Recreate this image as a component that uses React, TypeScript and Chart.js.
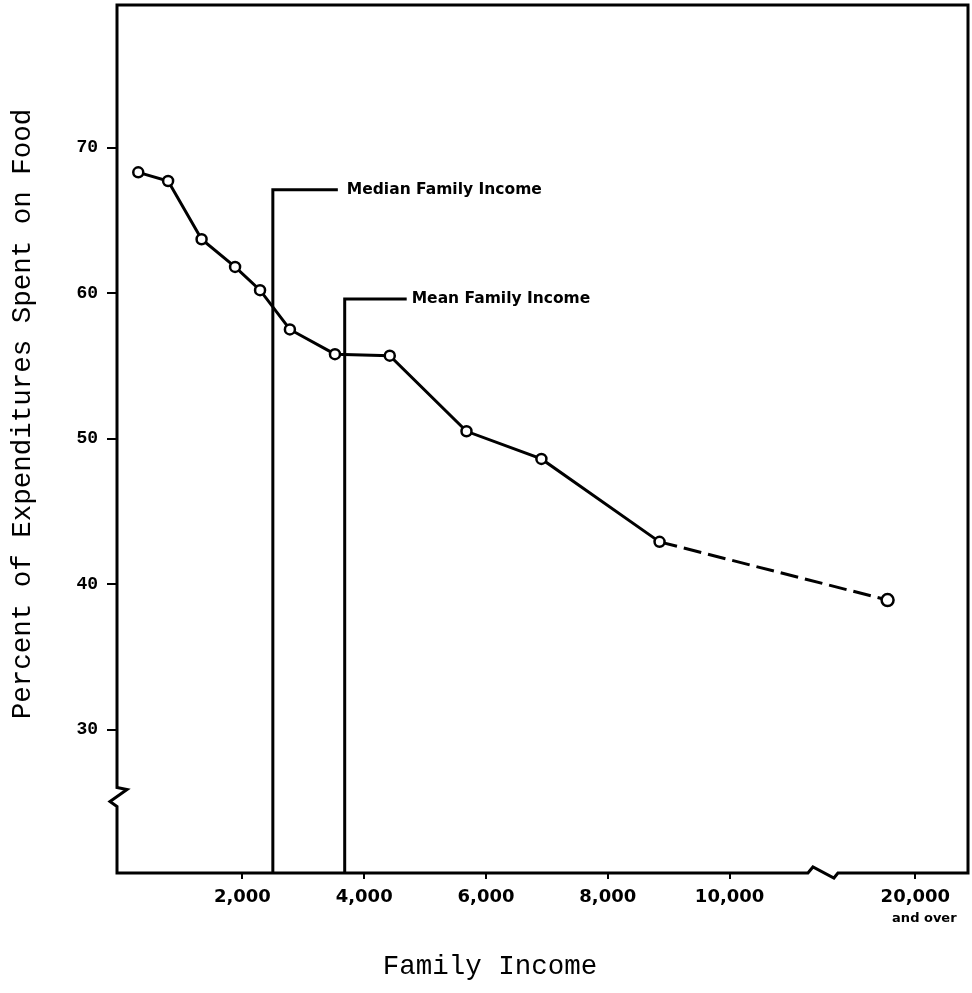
import React, { useEffect, useRef } from "react";
import { Chart, registerables } from "chart.js";

Chart.register(...registerables);

// ---- data ----
const incomes = [290, 780, 1330, 1880, 2290, 2780, 3520, 4420, 5680, 6910, 8850, 17500];
const foodShare = [68.3, 67.7, 63.7, 61.8, 60.2, 57.5, 55.8, 55.7, 50.5, 48.6, 42.9, 38.9];
const xTickValues = [2000, 4000, 6000, 8000, 10000, 20000];
const yTickValues = [30, 40, 50, 60, 70];
const medianIncome = 2500;
const medianLabelLevel = 67.1;
const meanIncome = 3680;
const meanLabelLevel = 59.6;
const medianLabel = "Median Family Income";
const meanLabel = "Mean Family Income";
const lastTickNote = "and over";
const yTitle = "Percent of Expenditures Spent on Food";
const xTitle = "Family Income";

// broken x axis: values above the break are compressed
const X_BREAK = 11500;
const COMPRESS = 0.1824;
const Y_BREAK = 25.4;
const toAxis = (v: number) => (v <= X_BREAK ? v : X_BREAK + (v - X_BREAK) * COMPRESS);

const decor = {
  id: "decor",
  beforeDatasetsDraw(chart: any) {
    const { ctx, chartArea: a, scales } = chart;
    const x = scales.x;
    const y = scales.y;
    ctx.save();
    ctx.strokeStyle = "#000";
    ctx.lineWidth = 3;
    ctx.lineJoin = "miter";
    const yb = y.getPixelForValue(Y_BREAK);
    const xb = x.getPixelForValue(X_BREAK);
    ctx.beginPath();
    ctx.moveTo(a.left, a.top);
    ctx.lineTo(a.right, a.top);
    ctx.lineTo(a.right, a.bottom);
    ctx.lineTo(xb + 17, a.bottom);
    ctx.lineTo(xb + 13, a.bottom + 5);
    ctx.lineTo(xb - 8, a.bottom - 6);
    ctx.lineTo(xb - 13, a.bottom);
    ctx.lineTo(a.left, a.bottom);
    ctx.lineTo(a.left, yb + 10);
    ctx.lineTo(a.left - 7, yb + 5);
    ctx.lineTo(a.left + 10, yb - 7);
    ctx.lineTo(a.left, yb - 9);
    ctx.lineTo(a.left, a.top);
    ctx.closePath();
    ctx.stroke();

    // median / mean markers
    const marks = [
      { v: medianIncome, lvl: medianLabelLevel, len: 65, gap: 9, text: medianLabel },
      { v: meanIncome, lvl: meanLabelLevel, len: 62, gap: 5, text: meanLabel },
    ];
    ctx.font = "bold 15.5px 'DejaVu Sans'";
    ctx.fillStyle = "#000";
    ctx.textAlign = "left";
    ctx.textBaseline = "middle";
    for (const m of marks) {
      const px = x.getPixelForValue(m.v);
      const py = y.getPixelForValue(m.lvl);
      ctx.beginPath();
      ctx.moveTo(px, a.bottom);
      ctx.lineTo(px, py);
      ctx.lineTo(px + m.len, py);
      ctx.stroke();
      ctx.fillText(m.text, px + m.len + m.gap, py);
    }
    ctx.restore();
  },
  afterDraw(chart: any) {
    const { ctx, scales } = chart;
    const x = scales.x;
    ctx.save();
    ctx.fillStyle = "#000";
    ctx.textAlign = "center";
    ctx.textBaseline = "middle";
    ctx.font = "bold 13px 'DejaVu Sans'";
    ctx.fillText(lastTickNote, x.getPixelForValue(toAxis(20000)) + 9, 919);

    ctx.font = "27.5px 'Liberation Mono'";
    ctx.fillText(xTitle, 490, 967);
    ctx.translate(23, 414);
    ctx.rotate(-Math.PI / 2);
    ctx.fillText(yTitle, 0, 0);
    ctx.restore();
  },
};

export default function App() {
  const ref = useRef<HTMLCanvasElement | null>(null);

  useEffect(() => {
    if (!ref.current) return;
    const last = incomes.length - 1;
    const chart = new Chart(ref.current, {
      type: "line",
      data: {
        datasets: [
          {
            data: incomes.map((v, i) => ({ x: toAxis(v), y: foodShare[i] })),
            borderColor: "#000",
            borderWidth: 3,
            backgroundColor: "#fff",
            pointBackgroundColor: "#fff",
            pointBorderColor: "#000",
            pointBorderWidth: 2.5,
            pointRadius: incomes.map((_, i) => (i === last ? 6 : 5)),
            tension: 0,
            segment: {
              borderDash: (c: any) => (c.p1DataIndex === last ? [18, 7] : undefined),
            },
          },
        ],
      },
      options: {
        responsive: false,
        animation: false,
        layout: { autoPadding: false, padding: { left: 0, right: 4, top: 5, bottom: 0 } },
        plugins: { legend: { display: false }, tooltip: { enabled: false } },
        scales: {
          x: {
            type: "linear",
            min: -59,
            max: 13915,
            afterFit: (s: any) => {
              s.height = 120;
              s.paddingLeft = 0;
              s.paddingRight = 0;
              s.paddingTop = 0;
              s.paddingBottom = 0;
            },
            afterBuildTicks: (s: any) => {
              s.ticks = xTickValues.map((v) => ({ value: toAxis(v) }));
            },
            border: { display: false },
            grid: {
              display: true,
              drawOnChartArea: false,
              drawTicks: true,
              tickLength: 6,
              color: "#000",
              lineWidth: 2,
            },
            ticks: {
              color: "#000",
              padding: 8,
              maxRotation: 0,
              autoSkip: false,
              font: { family: "DejaVu Sans", size: 18, weight: "bold" },
              callback: (_v: any, i: number) => xTickValues[i].toLocaleString("en-US"),
            },
          },
          y: {
            type: "linear",
            min: 20.14,
            max: 79.8,
            afterFit: (s: any) => {
              s.width = 117;
              s.paddingLeft = 0;
              s.paddingRight = 0;
              s.paddingTop = 0;
              s.paddingBottom = 0;
            },
            afterBuildTicks: (s: any) => {
              s.ticks = yTickValues.map((v) => ({ value: v }));
            },
            border: { display: false },
            grid: {
              display: true,
              drawOnChartArea: false,
              drawTicks: true,
              tickLength: 10,
              color: "#000",
              lineWidth: 2,
            },
            ticks: {
              color: "#000",
              padding: 9,
              font: { family: "Liberation Mono", size: 18, weight: "bold" },
            },
          },
        },
      },
      plugins: [decor],
    });
    return () => chart.destroy();
  }, []);

  return (
    <canvas
      ref={ref}
      width={972}
      height={993}
      style={{ position: "absolute", left: 0, top: 0, width: 972, height: 993, background: "#fff" }}
    />
  );
}
